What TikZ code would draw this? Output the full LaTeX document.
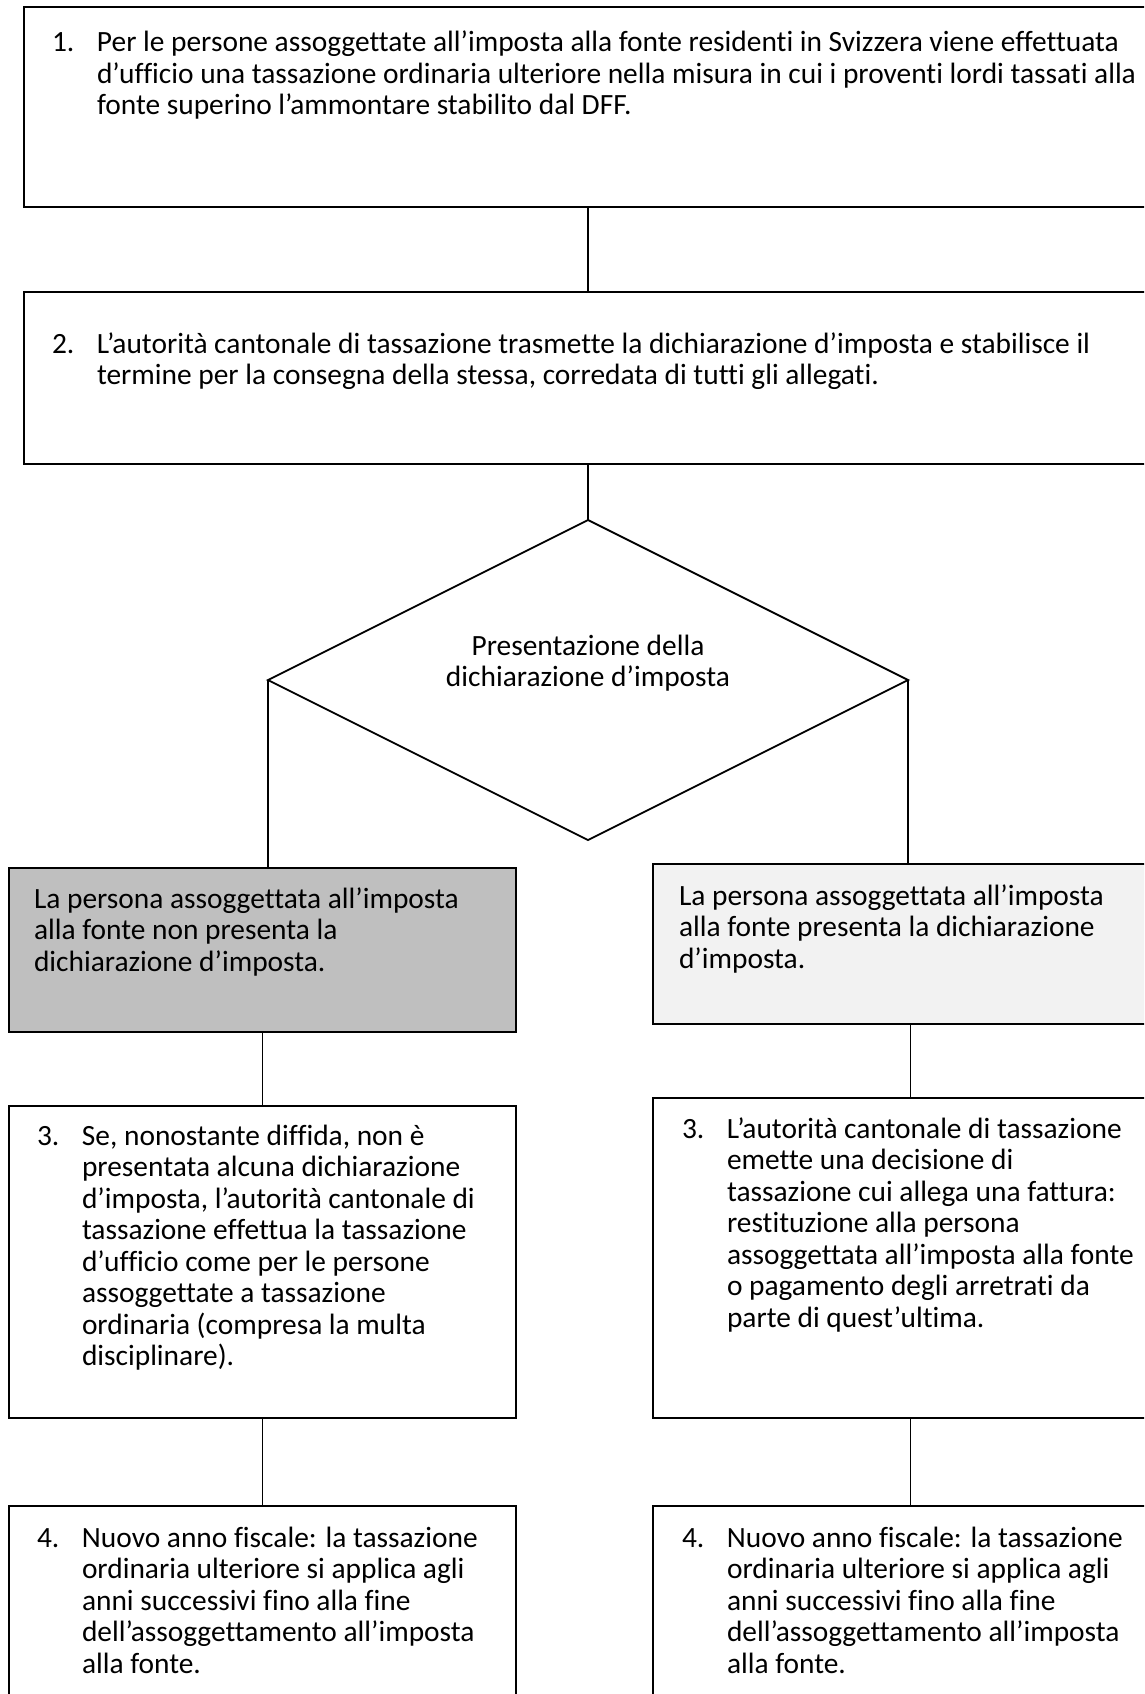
\documentclass[tikz,border=0pt]{standalone}
\usepackage{fontspec}
\setmainfont{Carlito}[Ligatures=NoCommon]
\usetikzlibrary{shapes.geometric}
\definecolor{darkfill}{HTML}{BFBFBF}
\definecolor{lightfill}{HTML}{F2F2F2}
\tikzset{
  box/.style={draw=black, line width=2.8pt, rectangle, inner sep=0pt, outer sep=0pt, anchor=north west, fill=white},
  link/.style={draw=black, line width=1.8pt},
  txt/.style={anchor=base west, inner sep=0pt, outer sep=0pt},
  every node/.append style={font=\fontsize{29.4}{31.5}\selectfont},
}
\begin{document}
\begin{tikzpicture}[x=1pt,y=-1pt]
\useasboundingbox (0,0) rectangle (1144,1694);
\clip (0,0) rectangle (1144,1694);
\fill[white] (0,0) rectangle (1144,1694);

% boxes
\node[box, minimum width=1128pt, minimum height=200pt] (b1) at (24,7) {};
\node[box, minimum width=1128pt, minimum height=172pt] (b2) at (24,292) {};
\node[draw=black, line width=1.8pt, diamond, inner sep=0pt, outer sep=0pt,
      minimum width=640pt, minimum height=320pt] (d) at (588,680) {};
\node[box, fill=darkfill, minimum width=507pt, minimum height=164pt] (g) at (9,868) {};
\node[box, fill=lightfill, minimum width=515pt, minimum height=160pt] (w) at (653,864) {};
\node[box, minimum width=507pt, minimum height=312pt] (l3) at (9,1106) {};
\node[box, minimum width=515pt, minimum height=320pt] (r3) at (653,1098) {};
\node[box, minimum width=507pt, minimum height=300pt] (l4) at (9,1506) {};
\node[box, minimum width=515pt, minimum height=300pt] (r4) at (653,1506) {};

% connectors
\draw[link] (b1.south) -- (b2.north);
\draw[link] (b2.south) -- (d.north);
\draw[link] (d.west) -- (d.west |- g.north);
\draw[link] (d.east) -- (d.east |- w.north);
\draw[link] (g.south) -- (l3.north);
\draw[link] (w.south) -- (r3.north);
\draw[link] (l3.south) -- (l4.north);
\draw[link] (r3.south) -- (r4.north);

% texts
\node[txt] (t1) at (52,52) {\begin{tabular}[t]{@{}p{45pt}@{}l@{}}
1. & Per le persone assoggettate all’imposta alla fonte residenti in Svizzera viene effettuata\\
 & d’ufficio una tassazione ordinaria ulteriore nella misura in cui i proventi lordi tassati alla\\
 & fonte superino l’ammontare stabilito dal DFF.
\end{tabular}};

\node[txt] (t2) at (52,353) {\begin{tabular}[t]{@{}p{45pt}@{}l@{}}
2. & L’autorità cantonale di tassazione trasmette la dichiarazione d’imposta e stabilisce il\\
 & termine per la consegna della stessa, corredata di tutti gli allegati.
\end{tabular}};

\node[anchor=base, inner sep=0pt] (td) at (588,655) {\begin{tabular}[t]{@{}c@{}}
Presentazione della\\ dichiarazione d’imposta
\end{tabular}};

\node[txt] (tg) at (34,908) {\begin{tabular}[t]{@{}l@{}}
La persona assoggettata all’imposta\\
alla fonte non presenta la\\
dichiarazione d’imposta.
\end{tabular}};

\node[txt] (tw) at (679,905) {\begin{tabular}[t]{@{}l@{}}
La persona assoggettata all’imposta\\
alla fonte presenta la dichiarazione\\
d’imposta.
\end{tabular}};

\node[txt] (tl3) at (37,1145) {\begin{tabular}[t]{@{}p{45pt}@{}l@{}}
3. & Se, nonostante diffida, non è\\
 & presentata alcuna dichiarazione\\
 & d’imposta, l’autorità cantonale di\\
 & tassazione effettua la tassazione\\
 & d’ufficio come per le persone\\
 & assoggettate a tassazione\\
 & ordinaria (compresa la multa\\
 & disciplinare).
\end{tabular}};

\node[txt] (tr3) at (682,1138) {\begin{tabular}[t]{@{}p{45pt}@{}l@{}}
3. & L’autorità cantonale di tassazione\\
 & emette una decisione di\\
 & tassazione cui allega una fattura:\\
 & restituzione alla persona\\
 & assoggettata all’imposta alla fonte\\
 & o pagamento degli arretrati da\\
 & parte di quest’ultima.
\end{tabular}};

\node[txt] (tl4) at (37,1547) {\begin{tabular}[t]{@{}p{45pt}@{}l@{}}
4. & Nuovo anno fiscale: la tassazione\\
 & ordinaria ulteriore si applica agli\\
 & anni successivi fino alla fine\\
 & dell’assoggettamento all’imposta\\
 & alla fonte.
\end{tabular}};

\node[txt] (tr4) at (682,1547) {\begin{tabular}[t]{@{}p{45pt}@{}l@{}}
4. & Nuovo anno fiscale: la tassazione\\
 & ordinaria ulteriore si applica agli\\
 & anni successivi fino alla fine\\
 & dell’assoggettamento all’imposta\\
 & alla fonte.
\end{tabular}};
\end{tikzpicture}
\end{document}
